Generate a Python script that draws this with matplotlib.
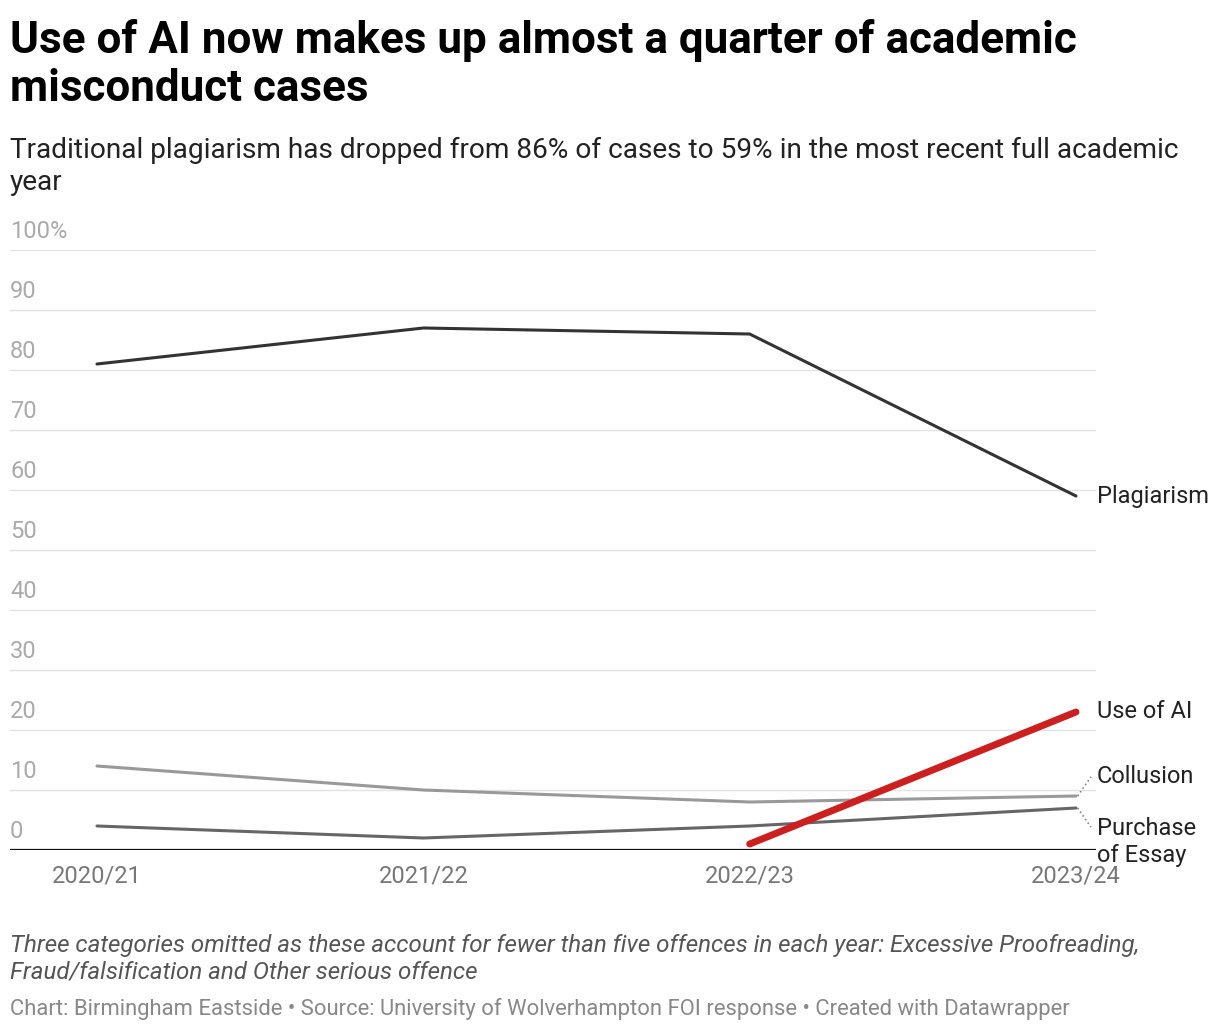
import numpy as np
import matplotlib.pyplot as plt

plt.rcParams['font.family'] = ['Roboto', 'DejaVu Sans']

years = ['2020/21', '2021/22', '2022/23', '2023/24']
plagiarism = [81, 87, 86, 59]
collusion = [14, 10, 8, 9]
purchase = [4, 2, 4, 7]
use_ai = [np.nan, np.nan, 1, 23]
yticks = [0, 10, 20, 30, 40, 50, 60, 70, 80, 90, 100]

W, H = 1220, 1032
fig = plt.figure(figsize=(W / 100, H / 100), dpi=100)


def fx(px):
    return px / W


def fy(py):
    return 1 - py / H


# axes: x 10..1096 px, y 250..850 px
ax = fig.add_axes([fx(10), fy(850), fx(1096) - fx(10), fy(250) - fy(850)])
x = np.arange(len(years))
step = (1076 - 97) / 3
ax.set_xlim(-(97 - 10) / step, 3 + (1096 - 1076) / step)
ax.set_ylim(0, 100)
for s in ax.spines.values():
    s.set_visible(False)
ax.set_xticks([])
ax.set_yticks([])

for t in yticks[1:]:
    ax.axhline(t, color='#e3e3e3', lw=1, zorder=0)
ax.axhline(0, color='#111111', lw=1.6, zorder=1)

# y labels above gridlines, left aligned
ytr = ax.get_yaxis_transform()
for t in yticks:
    lab = '100%' if t == 100 else str(t)
    ax.text(0, t + 3.0, lab, transform=ytr, ha='left', va='center',
            fontsize=17, color='#aaaaaa', clip_on=False)

for i, yr in enumerate(years):
    ax.text(x[i], -4.4, yr, ha='center', va='center', fontsize=17,
            color='#777777', clip_on=False)

ax.plot(x, plagiarism, color='#333333', lw=2.2, zorder=3, solid_capstyle='round')
ax.plot(x, collusion, color='#999999', lw=2.2, zorder=3, solid_capstyle='round')
ax.plot(x, purchase, color='#666666', lw=2.2, zorder=3, solid_capstyle='round')
ax.plot(x, use_ai, color='#cc1f1f', lw=5, zorder=4, solid_capstyle='round')

# connectors for the crowded labels
lx = 3 + (1091 - 1076) / step
ax.plot([3.005, lx], [collusion[3], collusion[3] + 3.2], ls=':', color='#888888',
        lw=1.2, clip_on=False)
ax.plot([3.005, lx], [purchase[3], purchase[3] - 3.2], ls=':', color='#888888',
        lw=1.2, clip_on=False)

tx = 3 + (1097 - 1076) / step
lab_kw = dict(ha='left', va='center', fontsize=17, color='#222222', clip_on=False)
ax.text(tx, plagiarism[3], 'Plagiarism', **lab_kw)
ax.text(tx, use_ai[3], 'Use of AI', **lab_kw)
ax.text(tx, collusion[3] + 3.3, 'Collusion', **lab_kw)
ax.text(tx, purchase[3] - 5.7, 'Purchase\nof Essay', linespacing=1.2, **lab_kw)

fig.text(fx(10), fy(101), 'Use of AI now makes up almost a quarter of academic\nmisconduct cases',
         ha='left', va='baseline', fontsize=31.7, fontweight='bold', color='#000000',
         linespacing=1.18)
fig.text(fx(10), fy(190), 'Traditional plagiarism has dropped from 86% of cases to 59% in the most recent full academic\nyear',
         ha='left', va='baseline', fontsize=20.15, color='#222222', linespacing=1.23)
fig.text(fx(10), fy(979), 'Three categories omitted as these account for fewer than five offences in each year: Excessive Proofreading,\nFraud/falsification and Other serious offence',
         ha='left', va='baseline', fontsize=17.4, style='italic', color='#555555',
         linespacing=1.22)
fig.text(fx(10), fy(1015), 'Chart: Birmingham Eastside \u2022 Source: University of Wolverhampton FOI response \u2022 Created with Datawrapper',
         ha='left', va='baseline', fontsize=15.85, color='#888888')

fig.savefig('out.png', dpi=100, facecolor='white')
